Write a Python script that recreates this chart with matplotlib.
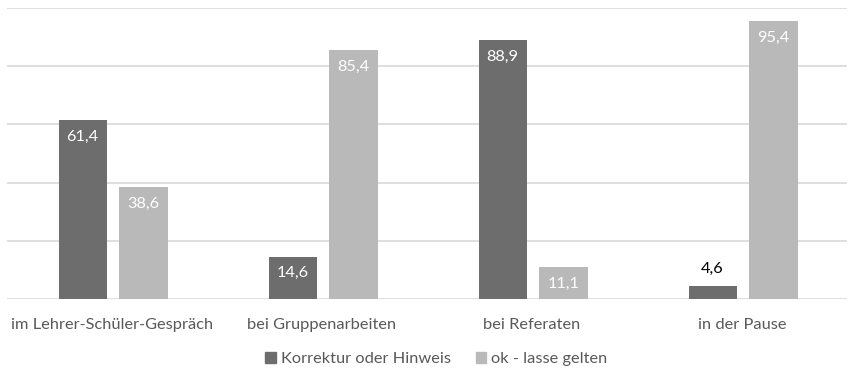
import numpy as np
import matplotlib
matplotlib.use("Agg")
import matplotlib.pyplot as plt
from matplotlib.patches import Patch

categories = ["im Lehrer-Schüler-Gespräch", "bei Gruppenarbeiten", "bei Referaten", "in der Pause"]
korrektur = [61.4, 14.6, 88.9, 4.6]
ok_gelten = [38.6, 85.4, 11.1, 95.4]
series_names = ["Korrektur oder Hinweis", "ok - lasse gelten"]

_DARK = "#6d6d6d"
_LIGHT = "#b9b9b9"
_GRID = "#d9d9d9"
_TEXT = "#595959"
_FS = 11.8

plt.rcParams["font.family"] = ["Lato", "DejaVu Sans"]

fig = plt.figure(figsize=(8.49, 3.70), dpi=100)
ax = fig.add_axes([7 / 849, 71 / 370, 840 / 849, 291 / 370])

x = np.arange(len(categories))
w = 0.229
off = 0.145

b1 = ax.bar(x - off + 0.005, korrektur, w, color=_DARK, zorder=3)
b2 = ax.bar(x + off + 0.005, ok_gelten, w, color=_LIGHT, zorder=3)


def _labels(bars, vals):
    for rect, v in zip(bars, vals):
        cx = rect.get_x() + rect.get_width() / 2
        txt = f"{v:.1f}".replace(".", ",")
        if v < 8:
            ax.annotate(txt, (cx, v), xytext=(0, 7), textcoords="offset points",
                        ha="center", va="bottom", fontsize=_FS, color="#000000")
        else:
            ax.annotate(txt, (cx, v), xytext=(0, -7), textcoords="offset points",
                        ha="center", va="top", fontsize=_FS, color="white")


_labels(b1, korrektur)
_labels(b2, ok_gelten)

ax.set_xlim(-0.5, len(categories) - 0.5)
ax.set_ylim(0, 100)
ax.set_yticks(np.arange(0, 101, 20))
ax.yaxis.grid(True, color=_GRID, lw=1.2, zorder=0)
ax.set_yticklabels([])
ax.tick_params(axis="y", length=0)
ax.tick_params(axis="x", length=0, pad=14, labelsize=_FS, labelcolor=_TEXT)
ax.set_xticks(x)
ax.set_xticklabels(categories)
for sp in ax.spines.values():
    sp.set_visible(False)

handles = [Patch(color=_DARK), Patch(color=_LIGHT)]
fig.legend(handles, series_names, loc="center", bbox_to_anchor=(0.514, 0.03),
           ncol=2, frameon=False, fontsize=_FS, labelcolor=_TEXT,
           handlelength=0.65, handleheight=0.65, handletextpad=0.3, columnspacing=1.5)

fig.savefig("out.png", dpi=100)
